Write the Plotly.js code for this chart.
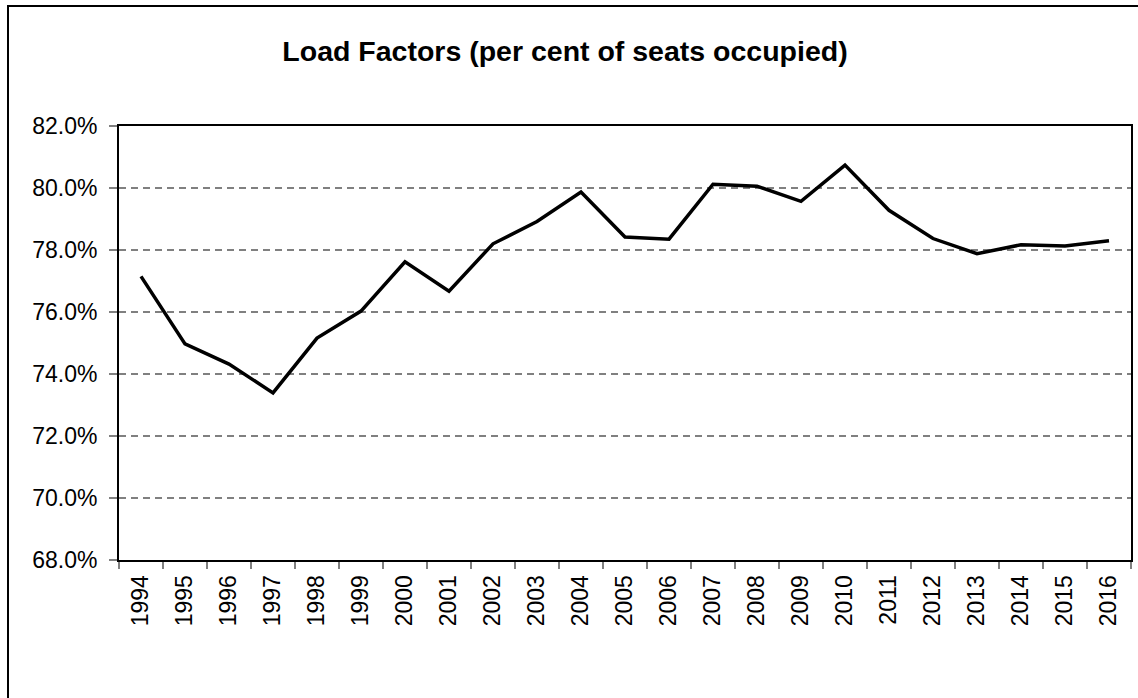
<!DOCTYPE html>
<html>
<head>
<meta charset="utf-8">
<script src="https://cdn.plot.ly/plotly-3.0.1.min.js"></script>
<style>
  html, body { margin: 0; padding: 0; background: #ffffff; }
  #wrap { position: relative; width: 1138px; height: 698px; }
  #chart { width: 1138px; height: 698px; }
  #frame { position: absolute; left: 7px; top: 5px; right: 0; bottom: 0;
           border-left: 2px solid #000; border-top: 2px solid #000; pointer-events: none; }
</style>
</head>
<body>
<div id="wrap">
  <div id="chart"></div>
  <div id="frame"></div>
</div>
<script>
const years = ["1994","1995","1996","1997","1998","1999","2000","2001","2002","2003","2004","2005",
               "2006","2007","2008","2009","2010","2011","2012","2013","2014","2015","2016"];
const loadFactor = [77.15, 74.97, 74.32, 73.39, 75.16, 76.03, 77.62, 76.67, 78.20, 78.92, 79.87, 78.42,
                    78.35, 80.12, 80.06, 79.57, 80.74, 79.28, 78.37, 77.88, 78.17, 78.13, 78.30];
const yTicks = [68, 70, 72, 74, 76, 78, 80, 82];
const chartTitle = "Load Factors (per cent of seats occupied)";

const FONT = "Arial, 'Liberation Sans', sans-serif";

const trace = {
  x: years,
  y: loadFactor,
  type: "scatter",
  mode: "lines",
  line: { color: "#000000", width: 3.5 },
  hoverinfo: "x+y"
};

const layout = {
  width: 1138,
  height: 698,
  paper_bgcolor: "#ffffff",
  plot_bgcolor: "#ffffff",
  margin: { l: 119, r: 7, t: 126, b: 138 },
  showlegend: false,
  title: {
    text: "<b>" + chartTitle + "</b>",
    font: { family: FONT, size: 28.5, color: "#000000" },
    x: 565 / 1138, xref: "container", xanchor: "center",
    y: 1 - 51 / 698, yref: "container", yanchor: "middle"
  },
  xaxis: {
    type: "category",
    range: [-0.5, years.length - 0.5],
    tickson: "boundaries",
    ticks: "outside",
    ticklen: 7,
    tickwidth: 2,
    tickcolor: "#808080",
    showline: true,
    linecolor: "#000000",
    linewidth: 2,
    mirror: true,
    showgrid: false,
    zeroline: false,
    tickangle: -90,
    ticklabelstandoff: 4,
    tickfont: { family: FONT, size: 23, color: "#000000" },
    fixedrange: true
  },
  yaxis: {
    range: [68, 82],
    tickvals: yTicks,
    ticktext: yTicks.map(v => v.toFixed(1) + "%"),
    ticks: "outside",
    ticklen: 8,
    tickwidth: 2,
    tickcolor: "#808080",
    showline: true,
    linecolor: "#000000",
    linewidth: 2,
    mirror: true,
    showgrid: true,
    gridcolor: "#808080",
    gridwidth: 1.5,
    griddash: "7px,5px",
    zeroline: false,
    ticklabelstandoff: 7,
    tickfont: { family: FONT, size: 23, color: "#000000" },
    fixedrange: true
  }
};

Plotly.newPlot("chart", [trace], layout, { displayModeBar: false, staticPlot: false });
</script>
</body>
</html>
